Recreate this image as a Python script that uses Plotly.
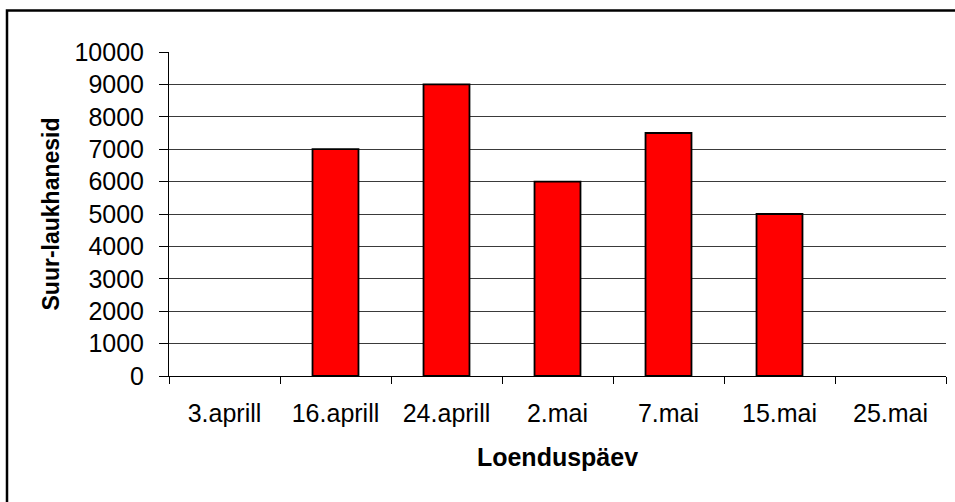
import plotly.graph_objects as go

categories = ["3.aprill", "16.aprill", "24.aprill", "2.mai", "7.mai", "15.mai", "25.mai"]
values = [0, 7000, 9000, 6000, 7500, 5000, 0]
y_ticks = list(range(0, 10001, 1000))
y_tick_labels = [str(v) for v in y_ticks]

FONT = "Liberation Sans, Arial, sans-serif"
FS = 25

fig = go.Figure(go.Bar(
    x=categories, y=values,
    marker=dict(color="#FF0000",
                line=dict(color="#000000", width=[0 if v == 0 else 1.8 for v in values])),
))

L, R, T, B = 169, 9, 52, 126
W, H = 955, 502
pw, ph = W - L - R, H - T - B

def px_x(x):
    return (x - L) / pw

def px_y(y):
    return (H - B - y) / ph

fig.add_shape(type="rect", xref="paper", yref="paper",
              x0=px_x(7), x1=px_x(965), y0=px_y(515), y1=px_y(10.5),
              line=dict(color="#000000", width=2.5), fillcolor="rgba(0,0,0,0)", layer="above")

fig.update_layout(
    width=W, height=H,
    margin=dict(l=L, r=R, t=T, b=B, pad=0),
    paper_bgcolor="white", plot_bgcolor="white",
    bargap=0.586,
    showlegend=False,
    font=dict(family=FONT, size=FS, color="#000000"),
)
fig.update_xaxes(
    type="category",
    showline=True, linecolor="#000000", linewidth=1,
    ticks="outside", tickson="boundaries", ticklen=7, tickcolor="#000000", tickwidth=1,
    showgrid=False,
    ticklabelstandoff=15,
    tickfont=dict(family=FONT, size=FS),
    title=dict(text="<b>Loenduspäev</b>", font=dict(family=FONT, size=FS), standoff=22),
)
fig.update_yaxes(
    range=[0, 10000], tickvals=y_ticks, ticktext=y_tick_labels,
    showline=True, linecolor="#000000", linewidth=1,
    ticks="outside", ticklen=9, tickcolor="#000000", tickwidth=1,
    showgrid=True, gridcolor="#3a3a3a", gridwidth=1,
    zeroline=False,
    ticklabelstandoff=10,
    tickfont=dict(family=FONT, size=FS),
    title=dict(text="<b>Suur-laukhanesid</b>", font=dict(family=FONT, size=23), standoff=8),
)

fig.write_html("out.html",
               config={"displayModeBar": False},
               post_script="document.body.style.margin='0';document.body.style.overflow='hidden';")
